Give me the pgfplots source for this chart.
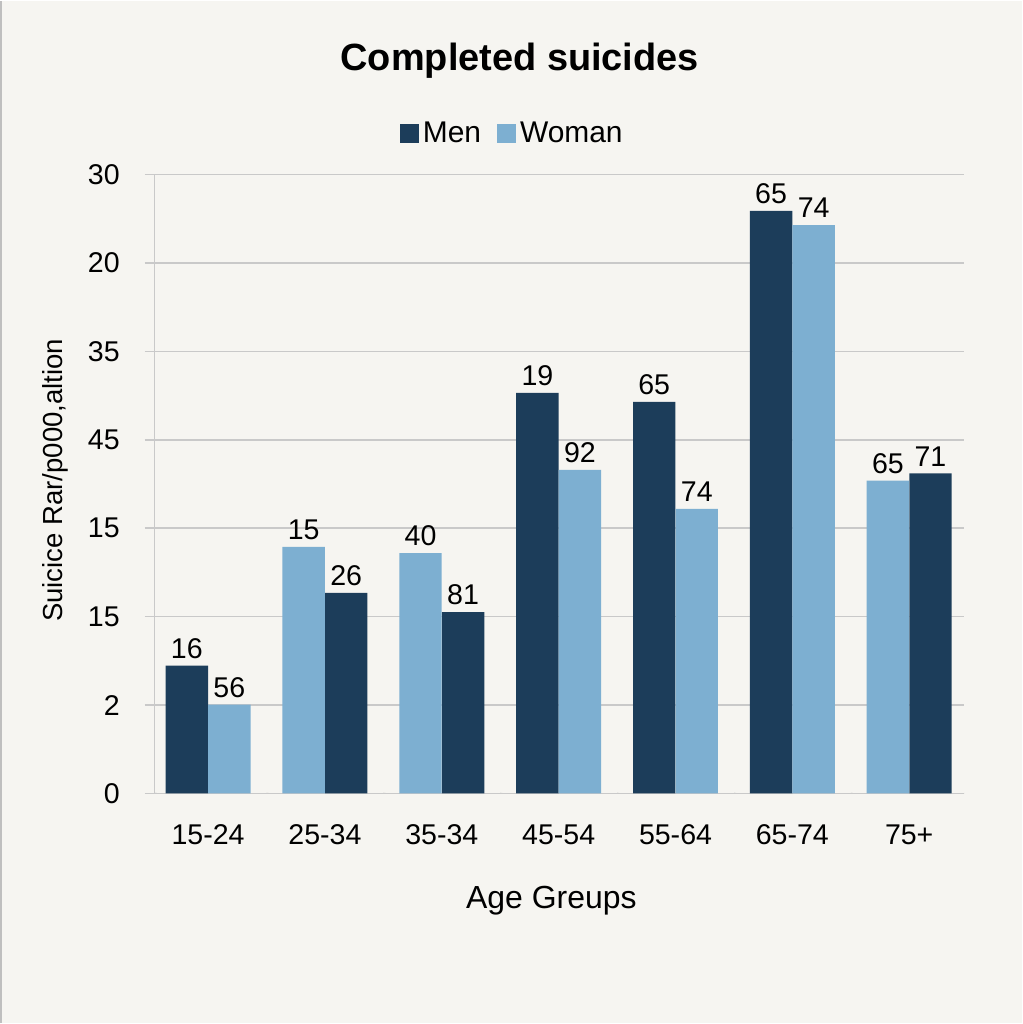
\documentclass[border=0pt]{standalone}
\usepackage{fontspec}
\setmainfont{Liberation Sans}
\usepackage{pgfplots}
\pgfplotsset{compat=1.18}
\definecolor{bg}{HTML}{F6F5F1}
\definecolor{men}{HTML}{1C3D5A}
\definecolor{woman}{HTML}{7DAFD1}
\definecolor{gridc}{HTML}{C9C9C9}
\begin{document}
\begin{tikzpicture}[x=1pt,y=1pt]
\fill[bg] (0,0) rectangle (512,512);
\draw[gray!50, line width=1pt] (0.6,0) -- (0.6,512);
\useasboundingbox (0,0) rectangle (512,512);
\begin{axis}[
  at={(77.5pt,115pt)}, anchor=south west,
  scale only axis, width=405.5pt, height=310pt,
  xmin=-0.457, xmax=6.47, ymin=0, ymax=7,
  ybar, bar width=0.363, bar shift=0pt,
  axis x line*=bottom, axis y line*=left,
  axis line style={gridc, line width=0.8pt},
  ytick={0,...,7}, yticklabels={0,2,15,15,45,35,20,30},
  ymajorgrids, grid style={gridc, line width=0.8pt},
  major tick length=5pt, tick align=outside,
  ytick style={gridc, line width=0.8pt},
  xtick={0,...,6}, xticklabels={15-24,25-34,35-34,45-54,55-64,65-74,75+},
  xtick style={draw=none},
  /pgf/number format/assume math mode=true,
  tick label style={font=\fontsize{14.3}{16}\selectfont, text=black},
  yticklabel style={anchor=east, xshift=-9pt},
  xticklabel style={anchor=north, yshift=-7pt},
  title={Completed suicides},
  title style={at={(0.451,1.165)}, anchor=center, font=\bfseries\fontsize{19}{22}\selectfont},
  xlabel={Age Greups},
  xlabel style={at={(0.49,-0.174)}, anchor=center, font=\fontsize{16}{18}\selectfont},
  ylabel={Suicice Rar/p000,altion},
  ylabel style={at={(-0.123,0.506)}, anchor=center, rotate=0, font=\fontsize{13.8}{16}\selectfont},
  legend style={at={(0.443,1.066)}, anchor=center, draw=none, fill=none,
    legend columns=-1, font=\fontsize{15}{18}\selectfont,
    /tikz/every even column/.append style={column sep=6pt}},
  legend image code/.code={\fill[#1] (0pt,-4.75pt) rectangle (9.5pt,4.75pt);},
  nodes near coords, point meta=explicit symbolic,
  nodes near coords style={font=\fontsize{14.3}{16}\selectfont, text=black, anchor=south},
]
\addplot[fill=men, draw=none] coordinates {
  (-0.182,1.445) [16]
  (1.182,2.27) [26]
  (2.182,2.05) [81]
  (2.818,4.53) [19]
  (3.818,4.43) [65]
  (4.818,6.59) [65]
  (6.182,3.62) [71]
};
\addlegendentry{Men}
\addplot[fill=woman, draw=none] coordinates {
  (0.182,1.005) [56]
  (0.818,2.79) [15]
  (1.818,2.72) [40]
  (3.182,3.66) [92]
  (4.182,3.22) [74]
  (5.182,6.43) [74]
  (5.818,3.54) [65]
};
\addlegendentry{Woman}
\pgfplotsinvokeforeach{-0.457,0.5,1.5,2.5,3.5,4.5,5.5,6.47}{
  \draw[gridc, line width=0.8pt] (axis cs:#1,0) -- ++(0,-4.5pt);
}
\end{axis}
\end{tikzpicture}
\end{document}
